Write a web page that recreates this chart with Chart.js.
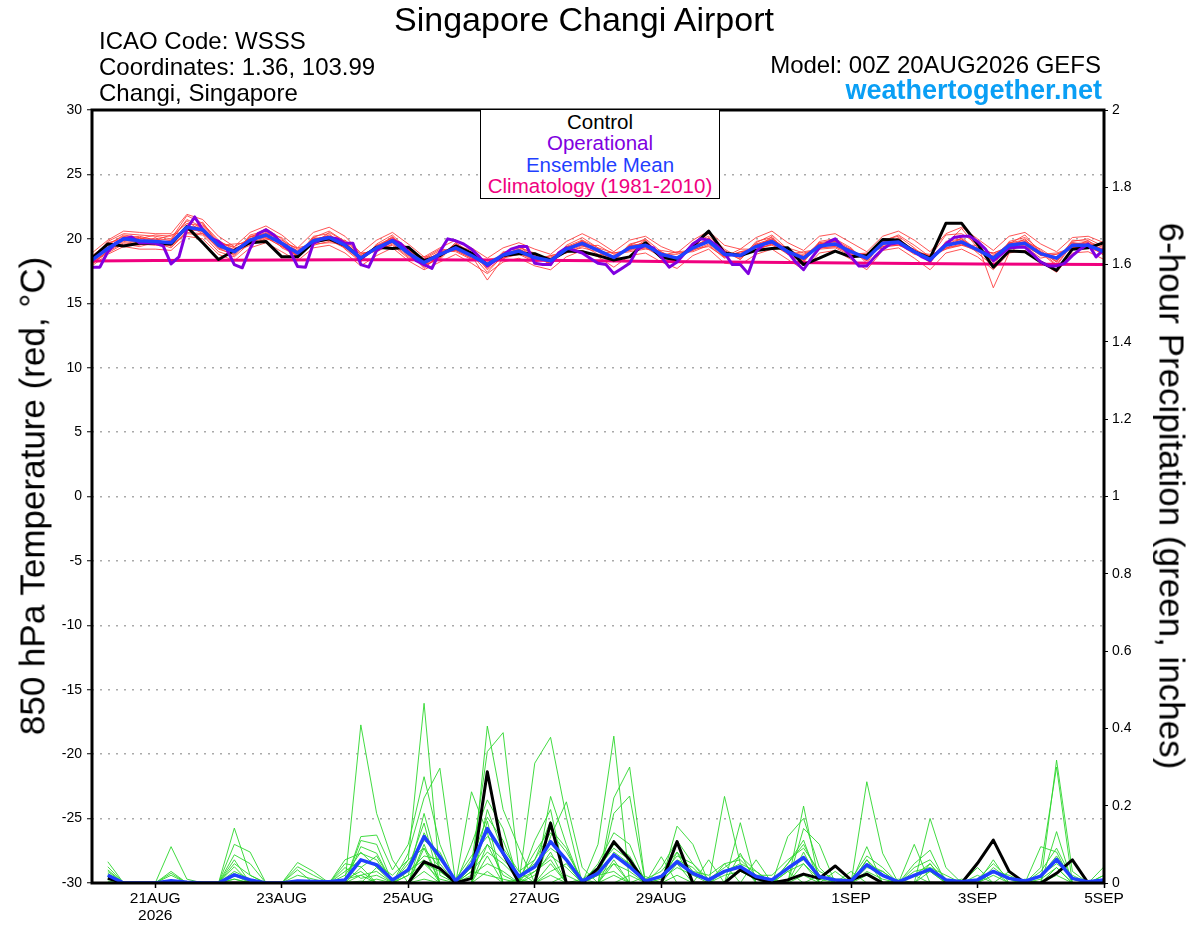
<!DOCTYPE html>
<html>
<head>
<meta charset="utf-8">
<script src="https://cdn.jsdelivr.net/npm/chart.js@4.4.1/dist/chart.umd.min.js"></script>
<style>
  body { margin: 0; background: #fff; }
  #wrap { position: relative; width: 1200px; height: 927px; font-family: "Liberation Sans", Arial, Helvetica, sans-serif; }
  #c { position: absolute; left: 0; top: 0; }
  .t { position: absolute; white-space: nowrap; line-height: 1; color: #000; }
  #legend { position: absolute; left: 480px; top: 109px; width: 240px; height: 90px; box-sizing: border-box;
            border: 1.5px solid #000; background: #fff; }
  #legend .t { left: 50%; font-size: 20.5px; transform: translate(-50%, -50%); }
</style>
</head>
<body>
<div id="wrap">
  <canvas id="c" width="1200" height="927"></canvas>

  <div class="t" style="left:584px; top:19px; font-size:34px; transform:translate(-50%,-50%)">Singapore Changi Airport</div>
  <div class="t" style="left:99px; top:40.5px; font-size:24px; transform:translateY(-50%)">ICAO Code: WSSS</div>
  <div class="t" style="left:99px; top:66.5px; font-size:24px; transform:translateY(-50%)">Coordinates: 1.36, 103.99</div>
  <div class="t" style="left:99px; top:92.5px; font-size:24px; transform:translateY(-50%)">Changi, Singapore</div>
  <div class="t" style="right:99px; top:64.5px; font-size:24px; transform:translateY(-50%)">Model: 00Z 20AUG2026 GEFS</div>
  <div class="t" style="right:98px; top:89.5px; font-size:27px; font-weight:bold; color:#0a9ff5; transform:translateY(-50%)">weathertogether.net</div>

  <div id="legend">
    <div class="t" style="top:12px; color:#000">Control</div>
    <div class="t" style="top:33px; color:#8000e0">Operational</div>
    <div class="t" style="top:54.5px; color:#1f3fff">Ensemble Mean</div>
    <div class="t" style="top:76px; color:#f0007f">Climatology (1981-2010)</div>
  </div>

  <div class="t" style="left:32px; top:496px; font-size:35px; transform:translate(-50%,-50%) rotate(-90deg)">850 hPa Temperature (red, °C)</div>
  <div class="t" style="left:1172px; top:496px; font-size:35px; transform:translate(-50%,-50%) rotate(90deg)">6-hour Precipitation (green, inches)</div>
</div>

<script>
// x runs in 6-hour steps from 00Z 20AUG (0) to 00Z 5SEP (64)
const tickIdx = [4, 12, 20, 28, 36, 48, 56, 64];
const tickLabels = [['21AUG', '2026'], '23AUG', '25AUG', '27AUG', '29AUG', '1SEP', '3SEP', '5SEP'];

// 850 hPa temperature, 6-hourly
const controlTemp = [
  18.5, 19.6, 19.45, 19.65, 19.65, 19.6, 20.95, 19.7, 18.4, 19.1,
  19.7, 19.8, 18.6, 18.6, 19.75, 20.0, 19.5, 18.5, 19.35, 19.25,
  19.35, 18.3, 18.7, 19.45, 18.9, 18.0, 18.7, 18.85, 18.85, 18.35,
  19.05, 19.0, 18.7, 18.35, 18.6, 19.7, 18.55, 18.4, 19.45, 20.6,
  18.9, 18.7, 19.1, 19.25, 19.3, 18.0, 18.5, 19.05, 18.6, 18.7,
  19.95, 19.9, 19.0, 18.5, 21.2, 21.2, 19.6, 17.8, 19.05, 19.0,
  18.2, 17.55, 19.2, 19.3, 19.7
];
const meanTemp = [
  18.35, 19.25, 20.0, 19.85, 19.8, 19.7, 20.9, 20.7, 19.5, 19.0,
  19.9, 20.3, 19.65, 18.9, 19.85, 20.1, 19.5, 18.5, 19.3, 19.85,
  18.9, 18.15, 18.8, 19.3, 18.7, 18.0, 18.75, 19.05, 18.55, 18.3,
  19.2, 19.65, 19.1, 18.55, 19.3, 19.5, 18.8, 18.5, 19.3, 19.8,
  18.8, 18.7, 19.4, 19.8, 19.0, 18.5, 19.45, 19.6, 19.0, 18.5,
  19.65, 19.75, 19.0, 18.4, 19.5, 19.75, 19.15, 18.5, 19.5, 19.65,
  18.85, 18.5, 19.5, 19.5, 19.0
];
// operational run is 3-hourly
const operationalTemp = [
  17.8, 17.8, 19.0, 19.65, 20.0, 20.15, 19.7, 19.7, 19.65, 19.45,
  18.05, 18.6, 20.8, 21.7, 20.7, 20.05, 19.8, 19.25, 18.0, 17.75,
  19.25, 20.4, 20.7, 20.3, 19.65, 19.1, 17.85, 17.8, 19.65, 20.0,
  20.1, 20.0, 19.65, 19.65, 18.0, 17.8, 19.1, 19.5, 19.9, 19.65,
  19.0, 18.3, 18.0, 17.7, 19.0, 20.0, 19.85, 19.6, 19.2, 18.6,
  17.9, 18.3, 18.75, 19.2, 19.4, 19.4, 18.1, 18.0, 18.0, 18.9,
  19.3, 19.1, 18.9, 18.5, 18.1, 18.0, 17.3, 17.7, 18.1, 19.2,
  19.5, 19.3, 18.6, 17.8, 18.2, 18.9, 19.6, 20.0, 19.9, 19.5,
  18.9, 18.0, 18.0, 17.3, 19.0, 19.6, 19.75, 19.4, 19.0, 18.2,
  17.6, 18.5, 19.3, 19.7, 20.0, 19.3, 18.6, 17.9, 17.9, 18.6,
  19.2, 19.6, 19.7, 19.3, 19.0, 18.6, 18.3, 19.0, 19.6, 20.1,
  20.2, 20.2, 19.8, 19.2, 18.3, 18.8, 19.3, 19.35, 19.35, 18.8,
  18.2, 17.9, 17.9, 18.1, 18.7, 19.2, 19.6, 18.6, 19.2
];
// climatology, daily
const climTemp = [18.28, 18.31, 18.33, 18.35, 18.37, 18.37, 18.36, 18.33, 18.29,
                  18.25, 18.21, 18.17, 18.13, 18.09, 18.05, 18.02, 18.0];

const redMembers = [
  [18.6,19.5,20.3,20.1,19.6,19.9,21.4,20.5,19.2,18.8, 20.3,20.6,19.3,18.7,20.2,20.4,19.2,18.2,19.6,20.3,
   19.1,17.9,18.5,19.7,18.9,17.7,18.9,19.4,18.8,18.0, 19.5,20.1,19.3,18.3,19.6,19.9,18.6,18.2,19.7,20.2,
   19.1,18.4,19.8,20.1,18.8,18.2,19.8,20.0,19.3,18.1, 19.9,20.2,19.3,18.1,19.8,20.0,18.9,17.9,19.8,20.1,
   19.1,18.2,19.9,19.8,19.3],
  [18.2,19.0,19.7,19.5,20.1,19.4,20.6,21.1,19.8,19.3, 19.6,20.0,19.9,19.2,19.5,19.8,19.9,18.9,19.0,19.6,
   18.6,18.4,19.1,19.0,18.4,18.3,18.5,18.8,18.2,18.6, 18.9,19.4,19.5,18.8,19.0,19.2,19.1,18.9,19.0,19.5,
   18.5,19.0,19.1,19.6,19.3,18.9,19.2,19.3,18.7,18.8, 19.4,19.5,19.2,18.6,19.2,19.5,19.5,18.8,19.2,19.4,
   18.5,18.8,19.2,19.6,18.7],
  [18.4,19.8,20.4,20.3,20.2,20.0,21.8,21.2,19.9,19.1, 20.1,20.8,20.0,18.6,20.1,20.6,19.8,18.4,19.5,20.1,
   19.3,18.0,18.7,19.5,19.1,17.6,18.6,19.3,18.9,17.9, 19.4,19.9,19.0,18.2,19.5,20.0,19.0,18.4,19.6,20.4,
   19.2,18.5,19.7,20.3,19.2,18.6,19.7,19.9,19.2,18.3, 19.8,20.3,19.5,18.6,20.3,20.4,19.6,16.2,18.9,19.8,
   19.2,18.4,19.8,20.0,19.4],
  [18.0,19.1,19.8,19.6,19.5,19.5,20.4,20.3,19.0,18.6, 19.7,20.1,19.4,19.0,19.7,19.9,19.3,18.7,19.1,19.7,
   18.7,18.3,18.9,19.1,18.5,18.1,18.8,18.9,18.4,18.5, 19.0,19.5,18.8,18.7,19.2,19.3,18.6,18.6,19.1,19.6,
   18.6,18.9,19.2,19.6,18.8,18.7,19.3,19.4,18.8,18.6, 19.5,19.6,18.8,18.5,19.3,19.6,19.0,18.7,19.4,19.5,
   18.7,18.6,19.3,19.3,18.9],
  [18.5,19.4,20.1,20.0,20.0,19.9,21.5,20.9,19.6,19.4, 20.0,20.5,19.8,18.5,19.9,20.3,19.6,18.3,19.4,20.0,
   19.0,17.8,18.6,19.4,18.8,17.4,18.7,19.2,18.6,18.1, 19.3,19.8,19.1,18.4,19.4,19.7,18.9,18.3,19.4,20.0,
   18.9,18.6,19.5,20.0,19.1,18.3,19.6,19.8,19.1,18.4, 19.7,20.0,19.1,18.3,19.6,20.8,19.3,18.2,19.6,19.8,
   18.9,18.3,19.6,19.7,19.0],
  [18.3,19.2,19.9,19.7,19.9,19.6,20.7,20.6,19.4,19.2, 19.8,20.2,19.6,19.1,19.8,20.0,19.4,18.6,19.2,19.9,
   18.8,18.2,19.0,19.2,18.6,17.9,18.9,19.1,18.5,18.4, 19.1,19.6,19.2,18.6,19.3,19.6,18.8,18.5,19.3,19.9,
   18.7,18.8,19.5,19.9,19.0,18.4,19.5,19.7,19.0,18.6, 19.6,19.8,19.0,18.3,19.5,19.9,19.2,18.4,19.6,19.7,
   18.8,18.5,19.4,19.5,18.9],
  [18.7,19.6,20.2,20.0,20.3,20.2,21.2,21.0,19.7,18.9, 20.2,20.4,19.5,18.8,20.0,20.2,19.7,18.6,19.3,20.0,
   19.2,18.0,18.4,19.6,18.7,16.8,18.5,19.2,18.7,18.2, 19.3,19.8,19.2,18.5,19.5,19.6,18.9,18.4,19.5,19.9,
   19.0,18.6,19.6,20.0,19.2,18.5,19.6,19.8,19.1,18.5, 19.7,19.9,19.1,18.4,19.6,19.8,19.2,18.6,19.7,19.9,
   19.0,18.0,19.7,19.6,19.2],
  [18.1,18.9,19.6,19.4,19.7,19.3,20.5,20.4,19.3,19.0, 19.5,20.0,19.7,19.3,19.6,19.7,19.6,18.8,19.2,19.5,
   18.5,18.5,19.2,19.1,18.5,18.4,18.6,18.9,18.3,18.7, 19.0,19.3,19.0,18.9,19.1,19.3,18.8,18.8,19.2,19.4,
   18.6,19.0,19.3,19.5,18.9,18.8,19.3,19.4,18.9,18.8, 19.4,19.5,19.0,18.7,19.3,19.5,19.1,18.9,19.3,19.4,
   18.8,18.9,19.3,19.4,18.8],
  [18.4,19.3,19.9,20.1,19.8,19.8,21.0,20.8,19.3,18.7, 20.0,20.4,19.5,18.7,20.0,20.1,19.5,18.4,19.4,20.1,
   19.0,17.7,18.8,19.5,18.8,17.9,18.8,19.1,18.6,18.2, 19.3,19.7,19.2,18.4,19.4,19.7,18.8,18.3,19.4,20.0,
   18.9,18.6,19.5,19.9,19.0,18.2,19.6,19.8,19.0,18.3, 19.7,19.9,19.0,18.2,19.6,20.0,19.1,18.3,19.6,20.3,
   18.9,17.9,19.6,19.7,19.1],
  [18.3,19.3,20.0,19.8,19.8,19.7,20.8,20.7,19.6,19.1, 19.9,20.3,19.7,18.9,19.9,20.1,19.5,18.5,19.3,19.8,
   18.9,18.2,18.8,19.3,18.7,18.0,18.7,19.0,18.6,18.3, 19.2,19.6,19.1,18.6,19.3,19.5,18.8,18.5,19.3,19.8,
   18.8,18.7,19.4,19.8,19.0,18.5,19.5,19.6,19.0,18.5, 19.6,19.7,19.0,18.4,19.5,19.7,19.2,18.5,19.5,19.6,
   18.9,18.5,19.5,19.5,19.0],
  [18.9,19.9,20.6,20.5,20.4,20.4,21.9,21.5,20.2,19.4, 20.5,21.0,20.3,19.3,20.5,20.9,20.2,18.9,19.9,20.5,
   19.6,18.6,19.3,19.9,19.3,18.5,19.3,19.7,19.2,18.8, 19.8,20.4,19.8,19.0,19.9,20.2,19.4,18.9,19.9,20.6,
   19.5,19.2,20.1,20.6,19.7,19.1,20.2,20.4,19.7,19.0, 20.2,20.6,19.9,19.0,20.4,20.9,20.0,19.1,20.2,20.5,
   19.6,19.0,20.1,20.2,19.7],
  [17.9,18.8,19.4,19.2,19.2,19.1,20.2,20.0,18.8,18.3, 19.3,19.7,19.0,18.3,19.3,19.5,18.9,17.9,18.7,19.3,
   18.3,17.6,18.2,18.8,18.1,17.3,18.2,18.5,17.9,17.6, 18.6,19.1,18.6,17.8,18.7,18.9,18.2,17.7,18.7,19.2,
   18.1,18.0,18.8,19.2,18.4,17.6,18.9,19.1,18.4,17.6, 19.1,19.3,18.5,17.6,18.9,19.2,18.6,17.6,18.9,19.1,
   18.2,17.4,18.9,19.0,18.4],
  [18.6,19.7,20.0,20.2,19.9,20.3,20.6,21.3,19.5,19.6, 19.7,20.4,20.1,19.0,19.6,20.5,19.8,18.8,19.2,20.2,
   18.7,18.6,18.6,19.7,18.6,18.3,18.4,19.5,18.4,18.7, 18.9,19.9,19.3,18.9,19.1,19.9,18.7,19.0,19.1,20.1,
   18.6,19.2,19.2,20.2,18.8,19.0,19.2,20.0,18.8,18.9, 19.3,20.1,18.9,18.8,19.2,20.1,19.1,18.9,19.4,20.0,
   18.7,18.8,19.3,19.9,18.8],
  [18.1,19.0,20.2,19.6,19.9,19.5,21.1,20.4,19.7,18.8, 20.2,20.1,19.4,18.7,20.1,19.9,19.3,18.3,19.5,19.7,
   19.2,17.9,19.0,19.1,18.9,17.8,19.0,18.9,18.7,18.1, 19.4,19.5,19.1,18.3,19.5,19.4,19.0,18.2,19.5,19.8,
   19.0,18.4,19.6,19.7,19.2,18.3,19.7,19.5,19.2,18.3, 19.8,19.7,19.2,18.2,19.7,19.6,19.3,18.3,19.7,19.6,
   19.0,18.2,19.7,19.4,19.2]
];

// 6-hour precipitation (inches); first step has no accumulation
const controlPrecip = [null,
  .012, 0, 0, 0, 0, 0, 0, 0,
  0, 0, 0, 0, 0, 0, 0, 0,
  0, 0, 0, 0, .055, .038, 0, .012,
  .288, .077, 0, 0, .155, 0, 0, .038,
  .107, .06, 0, 0, .107, 0, 0, 0,
  .034, .012, 0, .008, .023, .012, .044, .008,
  .023, 0, 0, 0, 0, 0, 0, .051,
  .111, .03, 0, 0, .025, .06, 0, 0
];
const meanPrecip = [null,
  .02, 0, 0, 0, .006, .002, 0, 0,
  .021, .008, 0, 0, .005, .004, .003, .008,
  .06, .047, .008, .034, .12, .068, .005, .047,
  .141, .077, .017, .042, .107, .06, .005, .025,
  .073, .042, .005, .017, .055, .025, .008, .03,
  .042, .017, .008, .038, .066, .016, .008, .005,
  .047, .02, .003, .02, .035, .008, .003, .008,
  .03, .012, .005, .018, .061, .012, .003, .008
];
const greenMembers = [
  [null, .055,0,0,0,.094,.01,0,0, 0,0,0,0,.053,.03,0,0, .409,.18,.06,0,.13,.05,0,0, .19,.08,0,.06,.16,0,0,.05,
   .13,.1,0,.04,.11,.05,0,0, .077,0,.01,0,.199,0,.03,0, .094,0,0,.05,.085,0,0,0, .06,0,0,.04,.3,0,0,.042],
  [null, .042,0,0,0,0,0,0,0, .142,.02,0,0,0,0,0,0, .12,.124,.034,.1,.275,.1,0,.05, .34,.389,.03,0,.12,.21,.04,0,
   .22,.3,0,0,.08,0,0,.05, 0,.06,0,.12,.167,.04,0,0, .262,.077,0,0,0,0,0,.04, 0,.03,0,0,.318,.03,0,0],
  [null, .034,0,0,0,.03,0,0,0, .1,.08,0,0,0,0,0,0, .11,.1,0,.077,.22,.297,0,.236, .13,0,0,.31,.377,.17,0,0,
   .18,.225,0,.068,0,0,.06,0, .156,0,0,0,.141,.1,0,.03, 0,0,0,0,.167,.04,0,0, .03,0,0,0,.133,0,0,.02],
  [null, .025,0,0,0,0,0,0,0, .073,.05,0,0,.042,.02,0,0, .094,.077,0,.06,.465,.02,0,0, .406,.19,.09,0,.224,.1,0,.1,
   .38,0,.017,0,.147,.1,0,0, 0,0,0,.05,.111,0,0,0, .06,0,.01,0,.05,0,0,0, 0,0,0,.094,.08,0,0,0],
  [null, .015,0,0,0,0,0,0,0, .06,0,0,0,.034,0,0,.06, .077,.06,0,.04,.155,0,0,.1, .215,.14,0,.11,.19,0,0,0,
   .05,0,0,0,0,0,0,.224, .05,0,0,0,.08,0,0,0, .04,.03,0,.1,0,0,0,0, 0,0,.01,0,.04,0,0,0],
  [null, 0,0,0,0,.025,0,0,0, .042,0,0,0,0,0,0,.05, .042,0,0,0,.1,0,0,0, .16,0,0,0,.05,0,0,0,
   .08,.05,0,0,.05,0,0,0, .03,.02,0,.03,0,0,0,0, 0,0,0,0,.03,0,.01,0, 0,0,0,0,0,0,0,0],
  [null, .01,0,0,0,0,0,0,0, .025,0,0,0,0,0,0,.04, .012,.02,0,.02,.18,.03,0,0, .1,.02,0,0,0,.02,0,0,
   0,0,0,0,0,0,0,0, 0,0,0,0,.05,0,0,0, 0,0,0,0,0,0,0,.02, 0,0,0,0,.02,0,0,0],
  [null, 0,0,0,0,0,0,0,0, 0,0,0,0,0,0,0,0, 0,.01,0,0,.09,0,0,.02, .05,.03,0,.02,.08,0,0,.02,
   .03,0,0,0,.02,0,0,0, 0,0,0,0,0,.02,0,0, 0,0,0,.02,0,0,0,0, 0,0,0,0,0,0,0,0],
  [null, .02,0,0,0,0,0,0,0, .01,0,0,0,0,0,0,0, .02,0,0,0,.05,.01,0,0, .03,0,.01,0,.02,0,.01,0,
   0,.02,0,0,0,0,0,0, 0,0,0,0,.02,0,0,0, .02,0,0,0,0,0,0,0, 0,0,0,0,0,0,0,0],
  [null, 0,0,0,0,0,0,0,0, 0,0,0,0,0,0,0,0, 0,.04,.01,.03,.06,0,0,0, .07,0,0,0,.03,.05,0,0,
   0,0,0,0,0,0,0,0, 0,0,0,0,0,0,0,0, 0,0,0,0,0,0,0,0, 0,0,0,0,0,0,0,0],
  [null, 0,0,0,0,0,0,0,0, 0,0,0,0,0,0,0,.01, .03,0,0,0,.03,0,0,.03, .02,.01,0,.03,.06,0,0,0,
   .02,0,0,0,0,0,0,0, 0,0,0,0,0,0,0,0, 0,0,0,0,0,0,0,0, 0,0,0,0,0,0,0,0],
  [null, .005,0,0,0,0,0,0,0, 0,0,0,0,0,0,0,0, .005,0,0,0,.01,0,0,0, 0,0,0,0,0,0,0,0,
   .06,0,0,0,0,0,0,0, 0,0,0,0,0,0,0,0, 0,0,0,0,0,0,0,0, 0,0,0,0,0,0,0,0],
  [null, .03,0,0,0,.02,0,0,0, .05,.02,0,0,0,0,0,.03, .06,.05,.02,.06,.09,.04,0,.04, .1,.06,.02,.05,.09,.06,0,.03,
   .07,.05,0,.02,.06,.04,0,.03, .05,.03,0,.04,.06,.02,0,0, .05,.03,0,.03,.04,.02,0,0, .03,.02,0,.02,.05,.02,0,.01],
  [null, .02,0,0,0,0,0,0,0, .03,.01,0,0,.02,.01,0,.02, .08,.04,0,.03,.07,.06,.01,.07, .12,.09,.03,.06,.13,.08,.01,.04,
   .09,.06,.01,.03,.08,.03,.02,.05, .06,.02,.02,.06,.09,.03,.01,.01, .07,.04,0,.04,.06,.01,0,.01, .05,.01,0,.03,.09,.01,0,.02],
  [null, .01,0,0,0,0,0,0,0, .02,0,0,0,0,0,0,0, .04,.07,0,.05,.11,.08,0,.06, .17,.11,.01,.08,.14,.09,0,.03,
   .1,.07,0,.02,.07,.05,.01,.04, .07,.03,0,.05,.1,.02,0,0, .06,.02,0,.02,.05,0,0,0, .04,.01,0,.02,.07,.01,0,0],
  [null, 0,0,0,0,0,0,0,0, .01,0,0,0,0,0,0,.01, .02,.03,0,.02,.05,.03,0,.03, .08,.05,.01,.03,.07,.04,0,.02,
   .05,.03,0,.01,.04,.02,0,.02, .03,.01,0,.03,.05,.01,0,0, .03,.01,0,.02,.03,0,0,0, .02,0,0,.01,.04,0,0,0]
];

Chart.defaults.font.family = '"Liberation Sans", Arial, Helvetica, sans-serif';
Chart.defaults.color = '#000';

function pts(arr, step) {
  return arr.map((v, k) => ({ x: k * step, y: v }));
}

const datasets = [];
redMembers.forEach(m => datasets.push({
  data: pts(m, 1), yAxisID: 'y', borderColor: 'rgba(255,55,55,0.85)', borderWidth: 1, order: 20
}));
greenMembers.forEach(m => datasets.push({
  data: pts(m, 1), yAxisID: 'y2', borderColor: 'rgb(45,215,45)', borderWidth: 0.9, order: 20
}));
datasets.push({ data: pts(climTemp, 4), yAxisID: 'y', borderColor: '#f0007f', borderWidth: 3, order: 5 });
datasets.push({ data: pts(controlTemp, 1), yAxisID: 'y', borderColor: '#000', borderWidth: 3, order: 4 });
datasets.push({ data: pts(controlPrecip, 1), yAxisID: 'y2', borderColor: '#000', borderWidth: 3, order: 4 });
datasets.push({ data: pts(operationalTemp, 0.5), yAxisID: 'y', borderColor: '#8000e0', borderWidth: 3, order: 3 });
datasets.push({ data: pts(meanTemp, 1), yAxisID: 'y', borderColor: '#2040ff', borderWidth: 3.5, order: 1 });
datasets.push({ data: pts(meanPrecip, 1), yAxisID: 'y2', borderColor: '#2040ff', borderWidth: 3.5, order: 1 });

const framePlugin = {
  id: 'frame',
  afterDatasetsDraw(chart) {
    const { ctx, chartArea: a } = chart;
    ctx.save();
    ctx.strokeStyle = '#000';
    ctx.lineWidth = 3;
    ctx.strokeRect(a.left, a.top, a.right - a.left, a.bottom - a.top);
    ctx.restore();
  }
};

new Chart(document.getElementById('c'), {
  type: 'line',
  data: { datasets: datasets },
  plugins: [framePlugin],
  options: {
    responsive: false,
    animation: false,
    events: [],
    layout: { padding: { top: 110, left: 0, right: 0, bottom: 0 } },
    elements: {
      point: { radius: 0 },
      line: { tension: 0, borderJoinStyle: 'round', fill: false }
    },
    plugins: { legend: { display: false }, tooltip: { enabled: false } },
    scales: {
      x: {
        type: 'linear', min: 0, max: 64,
        afterBuildTicks: s => { s.ticks = tickIdx.map(v => ({ value: v })); },
        afterFit: s => { s.height = 44; },
        ticks: {
          autoSkip: false, maxRotation: 0, padding: 2,
          font: { size: 15.5, lineHeight: 1.1 },
          callback: (v, i) => tickLabels[i]
        },
        grid: { drawOnChartArea: false, drawTicks: true, tickLength: 5, tickColor: '#000', tickWidth: 1.5 },
        border: { display: false }
      },
      y: {
        position: 'left', min: -30, max: 30,
        afterFit: s => { s.width = 92; },
        ticks: { stepSize: 5, padding: 5, font: { size: 14 } },
        grid: { color: '#aaaaaa', lineWidth: 1.5, tickColor: '#000', tickLength: 5, tickWidth: 1 },
        border: { display: false, dash: [2, 6] }
      },
      y2: {
        position: 'right', min: 0, max: 2,
        afterFit: s => { s.width = 96; },
        ticks: {
          stepSize: 0.2, padding: 4, font: { size: 14 },
          callback: v => String(Math.round(v * 10) / 10)
        },
        grid: { drawOnChartArea: false, tickColor: '#000', tickLength: 4, tickWidth: 1 },
        border: { display: false }
      }
    }
  }
});
</script>
</body>
</html>
